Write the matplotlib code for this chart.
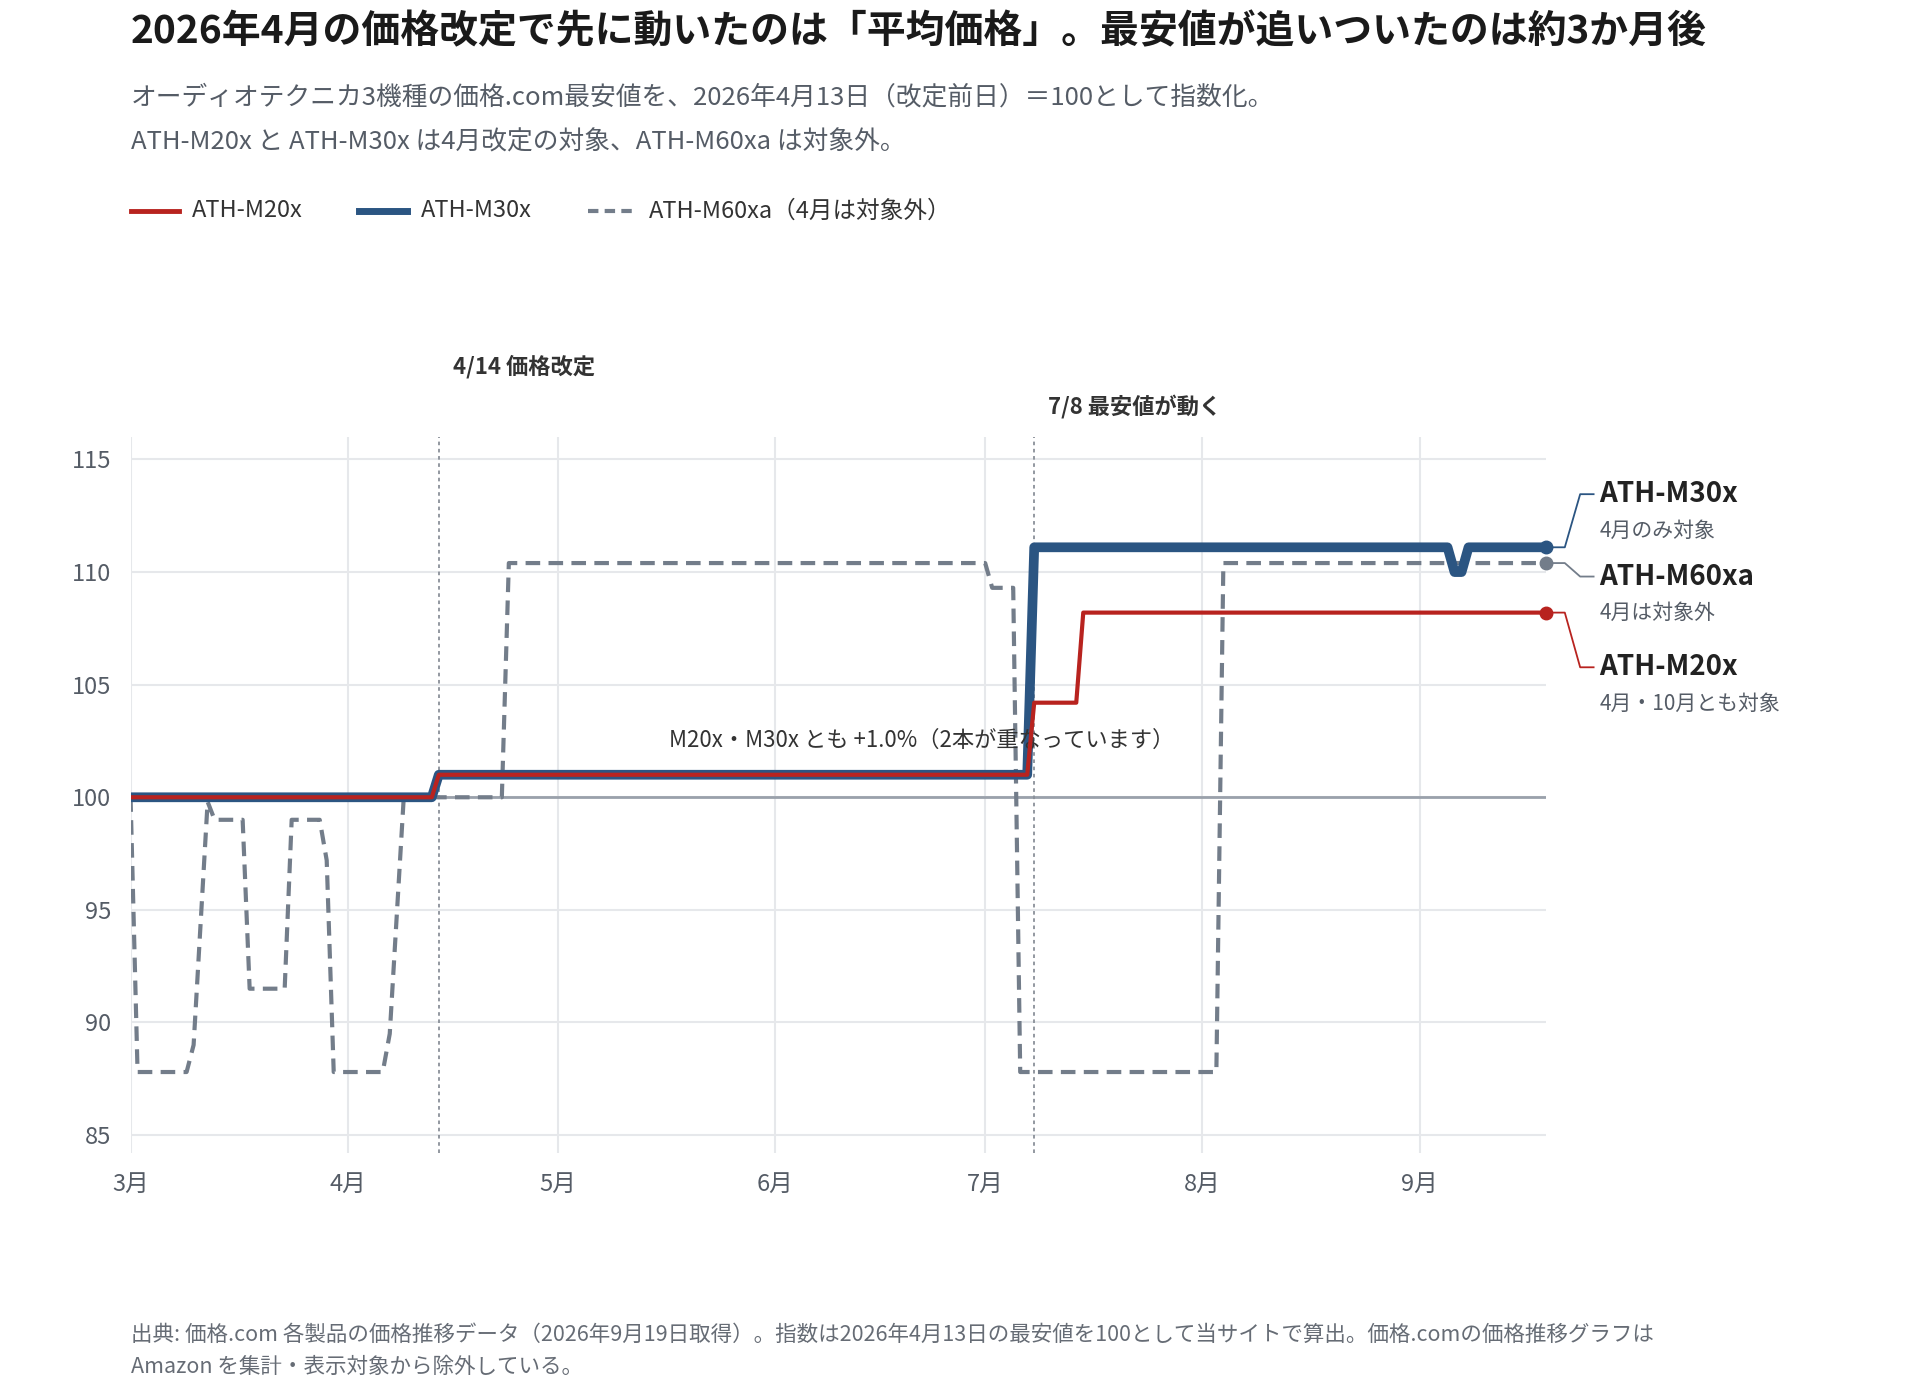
import matplotlib.pyplot as plt
import numpy as np

plt.rcParams['font.family'] = ['Noto Sans CJK JP', 'DejaVu Sans']

# breakpoints (date, index value)
m20_dates = ['2026-03-01', '2026-04-13', '2026-04-14', '2026-07-07', '2026-07-08',
             '2026-07-14', '2026-07-15', '2026-09-19']
m20_vals = [100, 100, 101, 101, 104.2, 104.2, 108.2, 108.2]

m30_dates = ['2026-03-01', '2026-04-13', '2026-04-14', '2026-07-07', '2026-07-08',
             '2026-09-05', '2026-09-06', '2026-09-07', '2026-09-08', '2026-09-19']
m30_vals = [100, 100, 101, 101, 111.1, 111.1, 110.0, 110.0, 111.1, 111.1]

m60_dates = ['2026-03-01', '2026-03-02', '2026-03-09', '2026-03-10', '2026-03-12', '2026-03-13',
             '2026-03-17', '2026-03-18', '2026-03-23', '2026-03-24', '2026-03-28', '2026-03-29',
             '2026-03-30', '2026-04-06', '2026-04-07', '2026-04-09', '2026-04-23', '2026-04-24',
             '2026-07-01', '2026-07-02', '2026-07-05', '2026-07-06', '2026-08-03', '2026-08-04',
             '2026-09-19']
m60_vals = [100, 87.8, 87.8, 89.0, 99.8, 99.0,
            99.0, 91.5, 91.5, 99.0, 99.0, 97.2,
            87.8, 87.8, 89.5, 100, 100, 110.4,
            110.4, 109.3, 109.3, 87.8, 87.8, 110.4,
            110.4]

month_labels = ['3月', '4月', '5月', '6月', '7月', '8月', '9月']

RED = '#b8231f'
BLUE = '#2b5582'
GREY = '#737d8a'
TXT = '#333333'

def d(s):
    return np.array(s, dtype='datetime64[D]')

fig = plt.figure(figsize=(19.2, 13.96), dpi=100)
ax = fig.add_axes([0.068, 0.174, 0.737, 0.513])

ax.axhline(100, color='#9aa1ab', lw=2, zorder=1)
ax.plot(d(m60_dates), m60_vals, color=GREY, lw=3, ls=(0, (3.5, 2)), zorder=2)
ax.plot(d(m30_dates), m30_vals, color=BLUE, lw=7, zorder=3, solid_joinstyle='round')
ax.plot(d(m20_dates), m20_vals, color=RED, lw=3, zorder=4)

end = np.datetime64('2026-09-19')
for vals, c in [(m30_vals, BLUE), (m60_vals, GREY), (m20_vals, RED)]:
    ax.plot([end], [vals[-1]], 'o', color=c, ms=9, zorder=5, clip_on=False)

ax.set_xlim(np.datetime64('2026-03-01'), end)
ax.set_ylim(84.2, 116)
ax.set_yticks([85, 90, 95, 100, 105, 110, 115])
ticks = [np.datetime64(f'2026-{m:02d}-01') for m in range(3, 10)]
ax.set_xticks(ticks)
ax.set_xticklabels(month_labels)
ax.tick_params(length=0, labelsize=17, colors='#555c66', pad=14)
ax.grid(color='#e6e8eb', lw=1.5)
ax.set_axisbelow(True)
for s in ax.spines.values():
    s.set_visible(False)

# event lines
for dt, lbl, yl in [('2026-04-14', '4/14 価格改定', 118.6), ('2026-07-08', '7/8 最安値が動く', 116.8)]:
    x = np.datetime64(dt)
    ax.axvline(x, color='#8a9099', lw=1.3, ls=(0, (2, 2)), zorder=1)
    ax.text(x + np.timedelta64(2, 'D'), yl, lbl, fontsize=16, fontweight='bold', color=TXT, va='bottom')

ax.text(np.datetime64('2026-06-22'), 102.0, 'M20x・M30x とも +1.0%（2本が重なっています）',
        fontsize=16, color=TXT, ha='center', va='bottom')

# end labels
xl = 0.833
for y, name, sub in [(0.646, 'ATH-M30x', '4月のみ対象'), (0.587, 'ATH-M60xa', '4月は対象外'),
                     (0.522, 'ATH-M20x', '4月・10月とも対象')]:
    fig.text(xl, y, name, fontsize=20, fontweight='bold', color='#222222', va='center')
    fig.text(xl, y - 0.026, sub, fontsize=15, color='#555c66', va='center')
for yv, ylab, c in [(m30_vals[-1], 0.646, BLUE), (m60_vals[-1], 0.587, GREY), (m20_vals[-1], 0.522, RED)]:
    y0 = ax.transData.transform((0, yv))[1] / fig.bbox.height
    fig.add_artist(plt.Line2D([0.809, 0.815, 0.823, 0.830], [y0, y0, ylab, ylab],
                              color=c, lw=1.3, transform=fig.transFigure))

# titles
fig.text(0.068, 0.977, '2026年4月の価格改定で先に動いたのは「平均価格」。最安値が追いついたのは約3か月後',
         fontsize=28, fontweight='bold', color='#1a1a1a', va='center')
fig.text(0.068, 0.930, 'オーディオテクニカ3機種の価格.com最安値を、2026年4月13日（改定前日）＝100として指数化。',
         fontsize=18.5, color='#555c66', va='center')
fig.text(0.068, 0.898, 'ATH-M20x と ATH-M30x は4月改定の対象、ATH-M60xa は対象外。',
         fontsize=18.5, color='#555c66', va='center')

# legend
ly = 0.849
for x0, c, lw, ls, lbl in [(0.068, RED, 3.5, '-', 'ATH-M20x'), (0.187, BLUE, 5, '-', 'ATH-M30x'),
                           (0.306, GREY, 3, (0, (2.5, 1.5)), 'ATH-M60xa（4月は対象外）')]:
    fig.add_artist(plt.Line2D([x0, x0 + 0.025], [ly, ly], color=c, lw=lw, ls=ls, transform=fig.transFigure))
    fig.text(x0 + 0.032, ly, lbl, fontsize=17, color=TXT, va='center')

fig.text(0.068, 0.032, '出典: 価格.com 各製品の価格推移データ（2026年9月19日取得）。指数は2026年4月13日の最安値を100として当サイトで算出。価格.comの価格推移グラフは\nAmazon を集計・表示対象から除外している。',
         fontsize=15.5, color='#666c75', va='center', linespacing=1.6)

fig.savefig('out.png', dpi=100)
